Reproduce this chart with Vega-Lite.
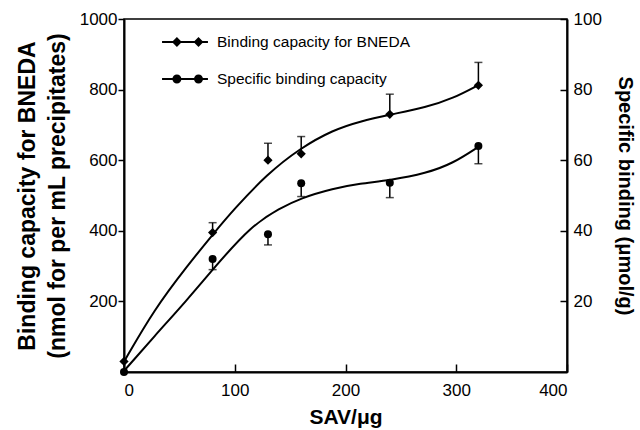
{
  "$schema": "https://vega.github.io/schema/vega-lite/v6.json",
  "width": 443,
  "height": 353,
  "autosize": "none",
  "padding": {"left": 124, "top": 19, "right": 73, "bottom": 58},
  "background": "white",
  "config": {
    "font": "Liberation Sans",
    "view": {"stroke": "black", "strokeWidth": 1.5},
    "axis": {
      "grid": false,
      "domainColor": "black",
      "domainWidth": 2,
      "tickColor": "black",
      "tickWidth": 1.5,
      "labelColor": "black",
      "labelFont": "Liberation Sans",
      "labelFontSize": 17,
      "titleColor": "black",
      "titleFont": "Liberation Sans",
      "titleFontSize": 21,
      "titleFontWeight": "bold",
      "format": "d"
    }
  },
  "datasets": {
    "pts": [
      {"series": "Binding capacity for BNEDA", "sav": 0, "v": 30, "e": null},
      {"series": "Binding capacity for BNEDA", "sav": 80, "v": 395, "e": 423},
      {"series": "Binding capacity for BNEDA", "sav": 130, "v": 600, "e": 648},
      {"series": "Binding capacity for BNEDA", "sav": 160, "v": 618, "e": 667},
      {"series": "Binding capacity for BNEDA", "sav": 240, "v": 730, "e": 787},
      {"series": "Binding capacity for BNEDA", "sav": 320, "v": 812, "e": 877},
      {"series": "Specific binding capacity", "sav": 0, "v": 0, "e": null},
      {"series": "Specific binding capacity", "sav": 80, "v": 32, "e": 29},
      {"series": "Specific binding capacity", "sav": 130, "v": 39, "e": 36},
      {"series": "Specific binding capacity", "sav": 160, "v": 53.5, "e": 49.7},
      {"series": "Specific binding capacity", "sav": 240, "v": 53.6, "e": 49.4},
      {"series": "Specific binding capacity", "sav": 320, "v": 64, "e": 59}
    ],
    "fitA": [
      {"sav": 0, "v": 29}, {"sav": 27, "v": 176}, {"sav": 57, "v": 300},
      {"sav": 81, "v": 393}, {"sav": 99, "v": 460}, {"sav": 129, "v": 560},
      {"sav": 159, "v": 634}, {"sav": 189, "v": 686}, {"sav": 213, "v": 710}, {"sav": 240, "v": 729},
      {"sav": 273, "v": 750}, {"sav": 297, "v": 775}, {"sav": 320, "v": 813}
    ],
    "fitB": [
      {"sav": 0, "v": 0.3}, {"sav": 27, "v": 10}, {"sav": 57, "v": 20.4}, {"sav": 81, "v": 29.4},
      {"sav": 115, "v": 41.5}, {"sav": 141, "v": 46.4}, {"sav": 159, "v": 49.2},
      {"sav": 189, "v": 52}, {"sav": 213, "v": 53.4}, {"sav": 240, "v": 54.3}, {"sav": 273, "v": 56.3},
      {"sav": 297, "v": 59.1}, {"sav": 320, "v": 63.8}
    ]
  },
  "encoding": {
    "x": {
      "field": "sav", "type": "quantitative",
      "scale": {"domain": [0, 400], "nice": false, "zero": false},
      "axis": {"values": [0, 100, 200, 300, 400], "tickSize": -8, "labelPadding": 18, "title": "SAV/μg", "titlePadding": 8}
    }
  },
  "layer": [
    {
      "layer": [
        {
          "data": {"name": "fitA"},
          "mark": {"type": "line", "interpolate": "basis", "color": "black", "strokeWidth": 2},
          "encoding": {
            "y": {"field": "v", "type": "quantitative", "scale": {"domain": [0, 1000], "nice": false},
              "axis": {"orient": "left", "values": [200, 400, 600, 800, 1000], "tickSize": 6, "labelPadding": 1,
                "title": ["Binding capacity for BNEDA", "(nmol for per mL precipitates)"], "titleFontSize": 23, "titlePadding": 10, "titleLineHeight": 30}}
          }
        },
        {
          "data": {"name": "pts"},
          "transform": [{"filter": "datum.series === 'Binding capacity for BNEDA' && isValid(datum.e)"}],
          "mark": {"type": "rule", "color": "black", "strokeWidth": 1.5},
          "encoding": {
            "y": {"field": "v", "type": "quantitative", "scale": {"domain": [0, 1000], "nice": false},
              "axis": {"orient": "left", "values": [200, 400, 600, 800, 1000], "tickSize": 6, "labelPadding": 1,
                "title": ["Binding capacity for BNEDA", "(nmol for per mL precipitates)"], "titleFontSize": 23, "titlePadding": 10, "titleLineHeight": 30}},
            "y2": {"field": "e"}
          }
        },
        {
          "data": {"name": "pts"},
          "transform": [{"filter": "datum.series === 'Binding capacity for BNEDA' && isValid(datum.e)"}],
          "mark": {"type": "tick", "orient": "horizontal", "color": "black", "size": 8, "thickness": 1.5},
          "encoding": {
            "y": {"field": "e", "type": "quantitative", "scale": {"domain": [0, 1000], "nice": false},
              "axis": {"orient": "left", "values": [200, 400, 600, 800, 1000], "tickSize": 6, "labelPadding": 1,
                "title": ["Binding capacity for BNEDA", "(nmol for per mL precipitates)"], "titleFontSize": 23, "titlePadding": 10, "titleLineHeight": 30}}
          }
        },
        {
          "data": {"name": "pts"},
          "transform": [{"filter": "datum.series === 'Binding capacity for BNEDA'"}],
          "mark": {"type": "point", "shape": "diamond", "filled": true, "size": 85, "opacity": 1, "color": "black"},
          "encoding": {
            "y": {"field": "v", "type": "quantitative", "scale": {"domain": [0, 1000], "nice": false},
              "axis": {"orient": "left", "values": [200, 400, 600, 800, 1000], "tickSize": 6, "labelPadding": 1,
                "title": ["Binding capacity for BNEDA", "(nmol for per mL precipitates)"], "titleFontSize": 23, "titlePadding": 10, "titleLineHeight": 30}}
          }
        },
        {
          "data": {"name": "pts"},
          "transform": [{"filter": "false"}],
          "mark": {"type": "point", "filled": true, "size": 324, "opacity": 1, "color": "black"},
          "encoding": {
            "y": {"field": "v", "type": "quantitative", "scale": {"domain": [0, 1000], "nice": false},
              "axis": {"orient": "left", "values": [200, 400, 600, 800, 1000], "tickSize": 6, "labelPadding": 1,
                "title": ["Binding capacity for BNEDA", "(nmol for per mL precipitates)"], "titleFontSize": 23, "titlePadding": 10, "titleLineHeight": 30}},
            "shape": {
              "field": "series", "type": "nominal",
              "scale": {
                "domain": ["Binding capacity for BNEDA", "Specific binding capacity"],
                "range": [
                  "M-2.55,-0.11H2.55V0.11H-2.55ZM-1.45,0L-0.9,-0.55L-0.35,0L-0.9,0.55ZM0.95,0L1.5,-0.55L2.05,0L1.5,0.55Z",
                  "M-2.55,-0.11H2.55V0.11H-2.55ZM-1.4,0A0.5,0.5,0,1,1,-0.4,0A0.5,0.5,0,1,1,-1.4,0ZM1,0A0.5,0.5,0,1,1,2,0A0.5,0.5,0,1,1,1,0Z"
                ]
              },
              "legend": {
                "title": null,
                "orient": "none",
                "legendX": 52,
                "legendY": 14,
                "padding": 0,
                "rowPadding": 19,
                "labelFont": "Liberation Sans",
                "labelFontSize": 15.5,
                "labelColor": "black",
                "labelOffset": 23,
                "labelLimit": 500,
                "symbolSize": 324,
                "symbolFillColor": "black",
                "symbolStrokeColor": "black",
                "symbolStrokeWidth": 0,
                "symbolOpacity": 1
              }
            }
          }
        }
      ]
    },
    {
      "layer": [
        {
          "data": {"name": "fitB"},
          "mark": {"type": "line", "interpolate": "basis", "color": "black", "strokeWidth": 2},
          "encoding": {
            "y": {"field": "v", "type": "quantitative", "scale": {"domain": [0, 100], "nice": false},
              "axis": {"orient": "right", "values": [20, 40, 60, 80, 100], "tickSize": -7, "labelPadding": 13,
                "title": "Specific binding (μmol/g)", "titleFontSize": 20, "titlePadding": 13}}
          }
        },
        {
          "data": {"name": "pts"},
          "transform": [{"filter": "datum.series === 'Specific binding capacity' && isValid(datum.e)"}],
          "mark": {"type": "rule", "color": "black", "strokeWidth": 1.5},
          "encoding": {
            "y": {"field": "v", "type": "quantitative", "scale": {"domain": [0, 100], "nice": false},
              "axis": {"orient": "right", "values": [20, 40, 60, 80, 100], "tickSize": -7, "labelPadding": 13,
                "title": "Specific binding (μmol/g)", "titleFontSize": 20, "titlePadding": 13}},
            "y2": {"field": "e"}
          }
        },
        {
          "data": {"name": "pts"},
          "transform": [{"filter": "datum.series === 'Specific binding capacity' && isValid(datum.e)"}],
          "mark": {"type": "tick", "orient": "horizontal", "color": "black", "size": 8, "thickness": 1.5},
          "encoding": {
            "y": {"field": "e", "type": "quantitative", "scale": {"domain": [0, 100], "nice": false},
              "axis": {"orient": "right", "values": [20, 40, 60, 80, 100], "tickSize": -7, "labelPadding": 13,
                "title": "Specific binding (μmol/g)", "titleFontSize": 20, "titlePadding": 13}}
          }
        },
        {
          "data": {"name": "pts"},
          "transform": [{"filter": "datum.series === 'Specific binding capacity'"}],
          "mark": {"type": "point", "shape": "circle", "filled": true, "size": 64, "opacity": 1, "color": "black"},
          "encoding": {
            "y": {"field": "v", "type": "quantitative", "scale": {"domain": [0, 100], "nice": false},
              "axis": {"orient": "right", "values": [20, 40, 60, 80, 100], "tickSize": -7, "labelPadding": 13,
                "title": "Specific binding (μmol/g)", "titleFontSize": 20, "titlePadding": 13}}
          }
        }
      ]
    }
  ],
  "resolve": {"scale": {"y": "independent"}}
}
